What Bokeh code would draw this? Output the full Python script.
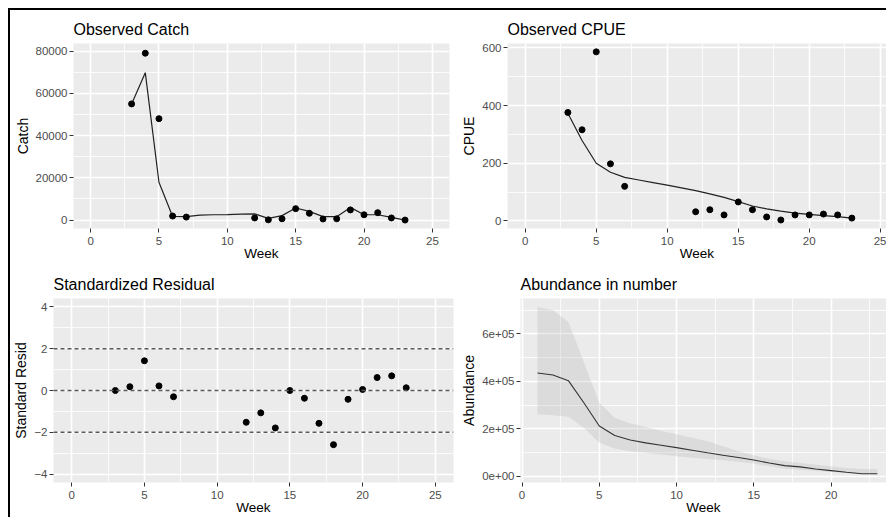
from bokeh.plotting import figure
from bokeh.layouts import column, row
from bokeh.models import SingleIntervalTicker, FixedTicker, Span, Range1d
from bokeh.embed import file_html
from bokeh.resources import INLINE

FONT = "Liberation Sans"

# ---------------- data ----------------
obs_weeks = [3, 4, 5, 6, 7, 12, 13, 14, 15, 16, 17, 18, 19, 20, 21, 22, 23]
catch_obs = [55000, 79000, 48000, 1900, 1400, 1000, 100, 600, 5400, 3200,
             500, 600, 4800, 2500, 3500, 1000, 0]

pred_weeks = list(range(3, 24))
catch_pred = [55000, 69800, 17900, 1700, 1600, 2300, 2500, 2600, 2800, 2900,
              800, 2100, 5700, 4100, 1600, 1600, 6000, 2500, 2500, 1300, 0]

cpue_obs = [376, 316, 586, 198, 120, 32, 39, 21, 66, 39, 14, 3.5, 21, 21, 24, 21, 10]
cpue_pred = [373, 279, 200, 169, 151, 142, 133, 124, 115, 105, 94, 82, 67, 52,
             42, 34, 27, 23, 18.5, 15, 10]

resid = [0.0, 0.18, 1.42, 0.22, -0.30, -1.52, -1.07, -1.79, 0.0, -0.37, -1.57,
         -2.59, -0.42, 0.05, 0.62, 0.70, 0.13]
resid_refs = [-2, 0, 2]

abund_weeks = list(range(1, 24))
abund = [435000, 427000, 403000, 310000, 212000, 172000, 153000, 141000, 131000,
         121000, 110000, 99000, 89000, 79000, 69000, 56000, 45000, 40000, 31000,
         24000, 17000, 11000, 11000]
abund_hi = [713000, 699000, 650000, 480000, 310000, 247000, 223000, 209000, 191000,
            177000, 162000, 148000, 127000, 106000, 89000, 73000, 64000, 56000,
            49000, 42000, 35000, 31000, 31000]
abund_lo = [261000, 257000, 251000, 205000, 141000, 117000, 106000, 99000, 92000,
            85000, 78000, 73000, 68000, 61000, 54000, 42000, 32000, 28000, 24000,
            18000, 14000, 10000, 10000]
abund_ticks = [0, 200000, 400000, 600000]
abund_minor = [100000, 300000, 500000, 700000]
abund_labels = ["0e+00", "2e+05", "4e+05", "6e+05"]


def make_fig(title, xlab, ylab, width, height, mbl, mbr, mbt, mbb, xr, yr, tstand):
    p = figure(width=width, height=height, output_backend="svg",
               toolbar_location=None, title=title,
               x_range=Range1d(*xr), y_range=Range1d(*yr),
               min_border_left=mbl, min_border_right=mbr,
               min_border_top=mbt, min_border_bottom=mbb)
    p.background_fill_color = "#EBEBEB"
    p.border_fill_color = "white"
    p.outline_line_color = None
    p.title.text_font = FONT
    p.title.text_font_size = "16px"
    p.title.text_font_style = "normal"
    p.title.text_color = "black"
    p.title.align = "left"
    p.title.standoff = tstand
    p.xaxis.axis_label = xlab
    p.yaxis.axis_label = ylab
    for ax in (p.xaxis, p.yaxis):
        ax.axis_line_color = None
        ax.major_tick_line_color = "#333333"
        ax.major_tick_out = 4
        ax.major_tick_in = 0
        ax.minor_tick_line_color = None
        ax.major_label_text_color = "#4D4D4D"
        ax.major_label_text_font = FONT
        ax.major_label_text_font_size = "11.5px"
        ax.axis_label_text_font = FONT
        ax.axis_label_text_font_style = "normal"
        ax.axis_label_text_color = "black"
    p.xaxis.axis_label_text_font_size = "13.5px"
    p.yaxis.axis_label_text_font_size = "14px"
    p.xaxis.major_label_standoff = 4
    p.xaxis.axis_label_standoff = -2
    p.yaxis.major_label_standoff = 2
    p.yaxis.axis_label_standoff = 2
    for g in (p.xgrid, p.ygrid):
        g.grid_line_color = "white"
        g.grid_line_width = 1.6
        g.minor_grid_line_color = "white"
        g.minor_grid_line_width = 0.8
    return p


def set_ticker(p, axis, ticker):
    if axis == "x":
        p.xaxis.ticker = ticker
        p.xgrid.ticker = ticker
    else:
        p.yaxis.ticker = ticker
        p.ygrid.ticker = ticker


# Observed Catch
p1 = make_fig("Observed Catch", "Week", "Catch", 445, 253, 63, 6, 33, 35,
              (-1.25, 26.25), (-4000, 83600), 12)
set_ticker(p1, "x", SingleIntervalTicker(interval=5, num_minor_ticks=2))
set_ticker(p1, "y", SingleIntervalTicker(interval=20000, num_minor_ticks=2))
p1.line(pred_weeks, catch_pred, line_color="#222222", line_width=1.2)
p1.scatter(obs_weeks, catch_obs, size=6, color="black")

# Observed CPUE
p2 = make_fig("Observed CPUE", "Week", "CPUE", 431, 253, 52, 0, 33, 35,
              (-1.25, 25.44), (-26, 615), 12)
set_ticker(p2, "x", SingleIntervalTicker(interval=5, num_minor_ticks=2))
set_ticker(p2, "y", SingleIntervalTicker(interval=200, num_minor_ticks=2))
p2.line(pred_weeks, cpue_pred, line_color="#222222", line_width=1.2)
p2.scatter(obs_weeks, cpue_obs, size=6, color="black")

# Standardized Residual
p3 = make_fig("Standardized Residual", "Week", "Standard Resid", 445, 254, 42, 2, 35, 34,
              (-1.25, 26.25), (-4.4, 4.4), 12)
set_ticker(p3, "x", SingleIntervalTicker(interval=5, num_minor_ticks=2))
set_ticker(p3, "y", SingleIntervalTicker(interval=2, num_minor_ticks=2))
for r in resid_refs:
    p3.add_layout(Span(location=r, dimension="width", line_color="#5A5A5A",
                       line_width=1.6, line_dash="4 3"))
p3.scatter(obs_weeks, resid, size=6, color="black")

# Abundance in number
p4 = make_fig("Abundance in number", "Week", "Abundance", 431, 254, 65, 0, 35, 34,
              (-0.1, 23.59), (-26000, 749000), 12)
set_ticker(p4, "x", SingleIntervalTicker(interval=5, num_minor_ticks=2))
set_ticker(p4, "y", FixedTicker(ticks=abund_ticks, minor_ticks=abund_minor))
p4.yaxis.major_label_overrides = dict(zip(abund_ticks, abund_labels))
p4.varea(x=abund_weeks, y1=abund_lo, y2=abund_hi, fill_color="#999999", fill_alpha=0.2)
p4.line(abund_weeks, abund, line_color="#333333", line_width=1.1)

layout = column(row(p1, p2), row(p3, p4),
                styles={"border-top": "2px solid black", "border-left": "2px solid black",
                        "margin-top": "8px", "margin-left": "8px"})

open("out.html", "w").write(file_html(layout, INLINE))
